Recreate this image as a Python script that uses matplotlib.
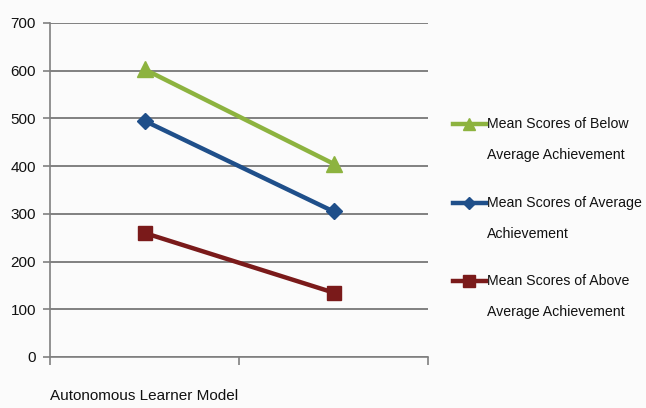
import matplotlib
matplotlib.use("Agg")
import matplotlib.pyplot as plt
from matplotlib.lines import Line2D

# data
categories = ["Autonomous Learner Model", ""]
below_avg = [603, 405]
average = [495, 305]
above_avg = [260, 135]
series_labels = ["Mean Scores of Below\nAverage Achievement",
                 "Mean Scores of Average\nAchievement",
                 "Mean Scores of Above\nAverage Achievement"]
yticks = [0, 100, 200, 300, 400, 500, 600, 700]

plt.rcParams['font.family'] = ['Liberation Sans', 'DejaVu Sans']

W, H = 646, 408
fig = plt.figure(figsize=(W / 100, H / 100), dpi=100)
fig.patch.set_facecolor('#fbfbfb')
ax = fig.add_axes([50 / W, 1 - 357 / H, 378 / W, 334 / H])
ax.set_facecolor('#fbfbfb')

x = [0.5, 1.5]
green = '#8db33f'
blue = '#1f4f8a'
red = '#7a1a1a'
styles = [(below_avg, green, '^', 11), (average, blue, 'D', 8), (above_avg, red, 's', 10)]
for vals, col, mk, ms in styles:
    ax.plot(x, vals, color=col, lw=3.2, marker=mk, ms=ms, zorder=3)

ax.set_xlim(0, 2)
ax.set_ylim(0, 700)
ax.set_yticks(yticks)
ax.yaxis.grid(True, color='#808080', lw=1.4)
ax.set_axisbelow(True)
ax.set_xticks([0, 1, 2])
ax.set_xticklabels([])
ax.set_xticks(x, minor=True)
ax.set_xticklabels(categories, minor=True)
ax.tick_params(axis='x', which='minor', length=0, pad=23, labelsize=11, labelcolor='#111111')
ax.tick_params(axis='x', which='major', length=6, width=1.2, color='#808080')
ax.tick_params(axis='y', length=5, width=1.2, color='#808080', labelsize=11, pad=5,
               labelcolor='#111111')
for s in ['top', 'right']:
    ax.spines[s].set_visible(False)
for s in ['left', 'bottom']:
    ax.spines[s].set_color('#808080')
    ax.spines[s].set_linewidth(1.2)

# legend drawn by hand: marker on first text line, wide line spacing
legend_y = [124, 203, 281]
line_gap = 31
for (vals, col, mk, ms), label, y0 in zip(styles, series_labels, legend_y):
    h = Line2D([453 / W, 469 / W, 486 / W], [1 - y0 / H] * 3, transform=fig.transFigure,
               color=col, lw=3.2, marker=mk, ms=ms * 0.8, markevery=[1])
    fig.add_artist(h)
    for i, part in enumerate(label.split('\n')):
        fig.text(487 / W, 1 - (y0 + i * line_gap) / H, part, fontsize=10.2,
                 va='center', ha='left', color='#111111')

fig.savefig("out.png", dpi=100, facecolor=fig.get_facecolor())
